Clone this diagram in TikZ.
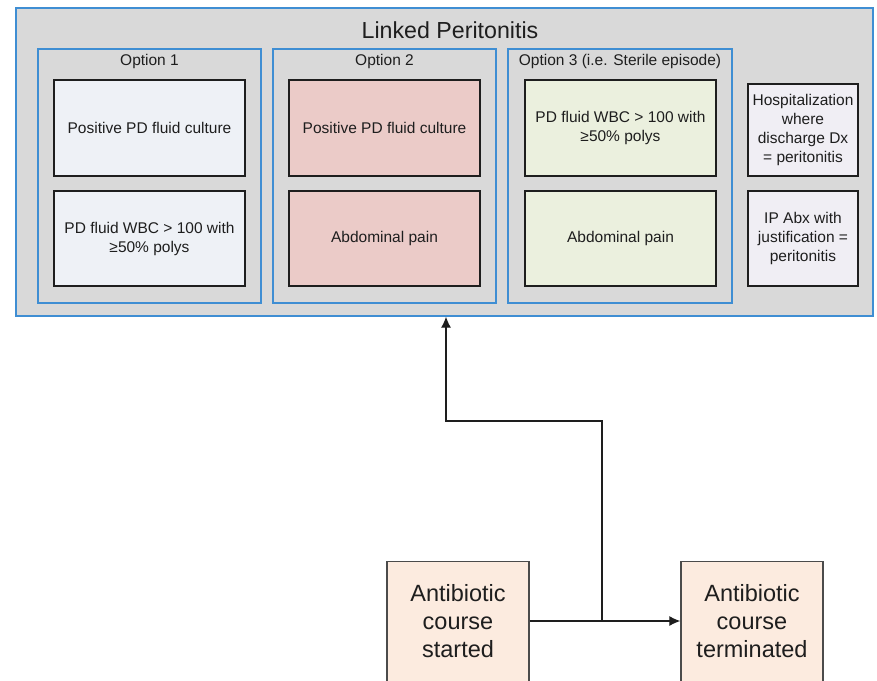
\documentclass[tikz,border=0pt]{standalone}
\usepackage{fontspec}
\setmainfont{Liberation Sans}
\usetikzlibrary{arrows.meta,calc}
\definecolor{bluebd}{HTML}{3F8ED3}
\definecolor{outerfill}{HTML}{D9D9D9}
\definecolor{opt1}{HTML}{EEF1F6}
\definecolor{opt2}{HTML}{EBCBC8}
\definecolor{opt3}{HTML}{EBF0DE}
\definecolor{optr}{HTML}{F0EEF4}
\definecolor{peach}{HTML}{FCEBDF}
\definecolor{dk}{HTML}{1E1E1E}
\begin{document}
\begin{tikzpicture}[x=1pt,y=-1pt,
  bluebox/.style={draw=bluebd,line width=1.3pt,fill=outerfill,rectangle,inner sep=0pt},
  innerbox/.style={draw=dk,line width=1.3pt,rectangle,inner sep=2pt,align=center,
     font=\fontsize{15.5}{19}\selectfont,text=dk},
  lbl/.style={font=\fontsize{15.5}{19}\selectfont,text=dk,inner sep=0pt},
  bigbox/.style={draw=dk!80,line width=1.3pt,fill=peach,rectangle,inner sep=0pt,align=center,
     font=\fontsize{23.5}{28}\selectfont,text=dk,minimum width=142pt},
  arr/.style={line width=1.2pt,draw=dk,-{Latex[length=11pt,width=10pt]}}]
\useasboundingbox (0,0) rectangle (877,680);
% outer
\node[bluebox,minimum width=857pt,minimum height=308pt] (outer) at (444.5,162) {};
\node[font=\fontsize{23.2}{28}\selectfont,text=dk,inner sep=0pt] (title) at (450,30) {Linked Peritonitis};
% option groups
\node[bluebox,minimum width=223pt,minimum height=254pt] (g1) at (149.5,176) {};
\node[bluebox,minimum width=223pt,minimum height=254pt] (g2) at (384.5,176) {};
\node[bluebox,minimum width=224pt,minimum height=254pt] (g3) at (620,176) {};
\node[lbl] (l1) at (149.5,61.5) {Option 1};
\node[lbl] (l2) at (384.5,61.5) {Option 2};
\node[lbl] (l3) at (620,61.5) {Option 3 (i.e. Sterile episode)};
% inner boxes
\node[innerbox,fill=opt1,minimum width=191pt,minimum height=96pt] (a1) at (149.5,128) {Positive PD fluid culture};
\node[innerbox,fill=opt1,minimum width=191pt,minimum height=95pt] (a2) at (149.5,238.5) {PD fluid WBC > 100 with\\≥50\% polys};
\node[innerbox,fill=opt2,minimum width=191pt,minimum height=96pt] (b1) at (384.5,128) {Positive PD fluid culture};
\node[innerbox,fill=opt2,minimum width=191pt,minimum height=95pt] (b2) at (384.5,238.5) {Abdominal pain};
\node[innerbox,fill=opt3,minimum width=191pt,minimum height=96pt] (c1) at (620.5,128) {PD fluid WBC > 100 with\\≥50\% polys};
\node[innerbox,fill=opt3,minimum width=191pt,minimum height=95pt] (c2) at (620.5,238.5) {Abdominal pain};
\node[innerbox,fill=optr,minimum width=110pt,minimum height=92pt,inner sep=0pt] (r1) at (803,130) {Hospitalization\\where\\discharge Dx\\= peritonitis};
\node[innerbox,fill=optr,minimum width=110pt,minimum height=95pt,inner sep=0pt] (r2) at (803,238.5) {IP Abx with\\justification =\\peritonitis};
% bottom boxes (bottom edge just below the page edge)
\node[bigbox,minimum height=120pt] (start) at (458,621.5) {Antibiotic\\course\\started};
\node[bigbox,minimum height=120pt] (stop) at (752,621.5) {Antibiotic\\course\\terminated};
% connectors
\coordinate (j) at (602,621);
\coordinate (k) at (446,421);
\draw[arr] (start.east |- j) -- (stop.west |- j);
\draw[arr] (j) |- (k) -- (k |- outer.south);
\end{tikzpicture}
\end{document}
